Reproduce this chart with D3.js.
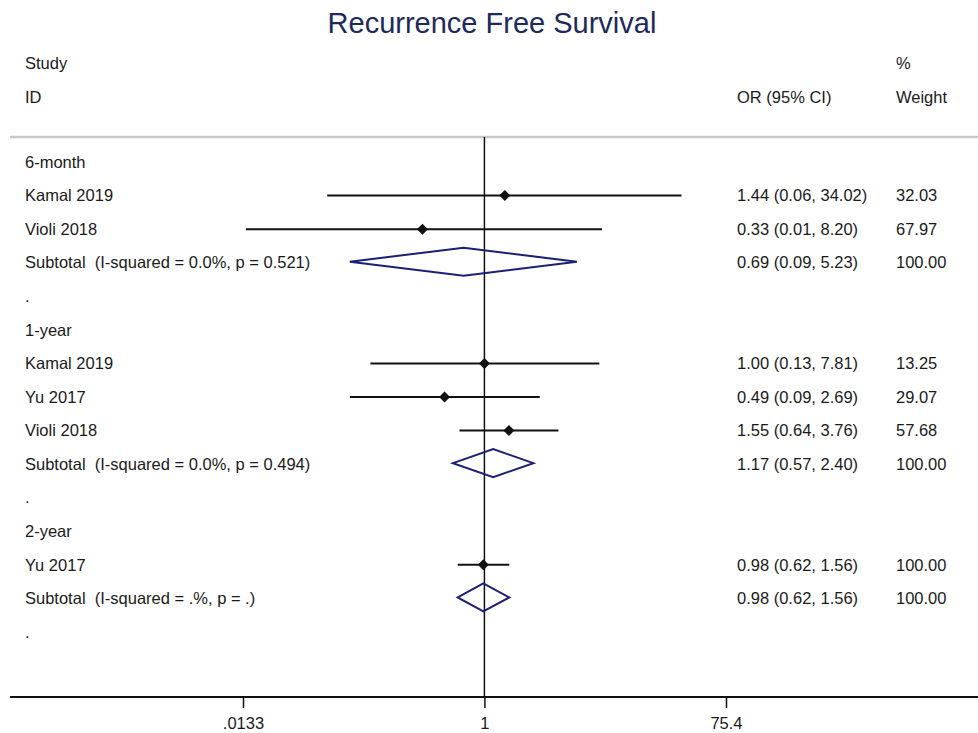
<!DOCTYPE html>
<html>
<head>
<meta charset="utf-8">
<script src="https://cdn.jsdelivr.net/npm/d3@7"></script>
<style>
  html, body { margin: 0; padding: 0; background: #fff; }
  svg { display: block; }
  text { font-family: "Liberation Sans", Arial, sans-serif; white-space: pre; }
</style>
</head>
<body>
<svg id="chart" width="978" height="733"></svg>
<script>
// ---- Data ----
const title = "Recurrence Free Survival";
const rowLabels = [
  "6-month", "Kamal 2019", "Violi 2018", "Subtotal  (I-squared = 0.0%, p = 0.521)", ".",
  "1-year", "Kamal 2019", "Yu 2017", "Violi 2018", "Subtotal  (I-squared = 0.0%, p = 0.494)", ".",
  "2-year", "Yu 2017", "Subtotal  (I-squared = .%, p = .)", "."
];
const rowTypes = [
  "group", "study", "study", "subtotal", "blank",
  "group", "study", "study", "study", "subtotal", "blank",
  "group", "study", "subtotal", "blank"
];
const orValues = [null, 1.44, 0.33, 0.69, null, null, 1.00, 0.49, 1.55, 1.17, null, null, 0.98, 0.98, null];
const lowerCI  = [null, 0.06, 0.014, 0.09, null, null, 0.13, 0.09, 0.64, 0.57, null, null, 0.62, 0.62, null];
const upperCI  = [null, 34.02, 8.20, 5.23, null, null, 7.81, 2.69, 3.76, 2.40, null, null, 1.56, 1.56, null];
const ciLabels = [
  "", "1.44 (0.06, 34.02)", "0.33 (0.01, 8.20)", "0.69 (0.09, 5.23)", "",
  "", "1.00 (0.13, 7.81)", "0.49 (0.09, 2.69)", "1.55 (0.64, 3.76)", "1.17 (0.57, 2.40)", "",
  "", "0.98 (0.62, 1.56)", "0.98 (0.62, 1.56)", ""
];
const weightLabels = [
  "", "32.03", "67.97", "100.00", "",
  "", "13.25", "29.07", "57.68", "100.00", "",
  "", "100.00", "100.00", ""
];
const tickValues = [0.0133, 1, 75.4];
const tickLabels = [".0133", "1", "75.4"];

// ---- Layout ----
const W = 978, H = 733;
const svg = d3.select("#chart");
const textColor = "#1a1a1a";
const navy = "#1b1f78";
const fs = 16.5;

const x = d3.scaleLog().domain([0.0133, 75.4]).range([243, 726]);
const y = d3.scalePoint().domain(d3.range(rowLabels.length)).range([162, 632]);
const axisY = 697;
const topY = 137;

// title
svg.append("text")
  .attr("x", 492).attr("y", 33)
  .attr("text-anchor", "middle")
  .attr("font-size", 29)
  .attr("fill", "#1c2a5c")
  .text(title);

// headers
const hdr = svg.append("g").attr("font-size", fs).attr("fill", textColor);
hdr.append("text").attr("x", 25).attr("y", 63).attr("dy", "0.35em").text("Study");
hdr.append("text").attr("x", 25).attr("y", 97).attr("dy", "0.35em").text("ID");
hdr.append("text").attr("x", 737).attr("y", 97).attr("dy", "0.35em").text("OR (95% CI)");
hdr.append("text").attr("x", 896).attr("y", 63).attr("dy", "0.35em").text("%");
hdr.append("text").attr("x", 896).attr("y", 97).attr("dy", "0.35em").text("Weight");

// separator
svg.append("line")
  .attr("x1", 10).attr("x2", W).attr("y1", topY).attr("y2", topY)
  .attr("stroke", "#c8c8c8").attr("stroke-width", 2.5);

// null line
svg.append("line")
  .attr("x1", x(1)).attr("x2", x(1)).attr("y1", topY).attr("y2", axisY)
  .attr("stroke", "#111").attr("stroke-width", 1.5);

const rows = rowLabels.map((l, i) => ({
  label: l, type: rowTypes[i], or: orValues[i], lo: lowerCI[i], hi: upperCI[i],
  ci: ciLabels[i], w: weightLabels[i], i
}));

// labels
const lbl = svg.append("g").attr("font-size", fs).attr("fill", textColor);
lbl.selectAll("text.lab").data(rows).join("text")
  .attr("class", "lab")
  .attr("xml:space", "preserve")
  .attr("x", 25).attr("y", d => y(d.i)).attr("dy", "0.35em")
  .text(d => d.label);
lbl.selectAll("text.ci").data(rows.filter(d => d.ci)).join("text")
  .attr("class", "ci")
  .attr("x", 737).attr("y", d => y(d.i)).attr("dy", "0.35em")
  .text(d => d.ci);
lbl.selectAll("text.w").data(rows.filter(d => d.w)).join("text")
  .attr("class", "w")
  .attr("x", 896).attr("y", d => y(d.i)).attr("dy", "0.35em")
  .text(d => d.w);

// study CI lines and markers
const studies = rows.filter(d => d.type === "study");
svg.append("g").selectAll("line").data(studies).join("line")
  .attr("x1", d => x(d.lo)).attr("x2", d => x(d.hi))
  .attr("y1", d => y(d.i)).attr("y2", d => y(d.i))
  .attr("stroke", "#111").attr("stroke-width", 2);
const m = 5.5;
svg.append("g").selectAll("path").data(studies).join("path")
  .attr("d", d => {
    const cx = x(d.or), cy = y(d.i);
    return `M${cx},${cy - m}L${cx + m},${cy}L${cx},${cy + m}L${cx - m},${cy}Z`;
  })
  .attr("fill", "#111");

// subtotal diamonds
const subs = rows.filter(d => d.type === "subtotal");
const dh = 14;
svg.append("g").selectAll("path").data(subs).join("path")
  .attr("d", d => {
    const cy = y(d.i) - 1;
    return `M${x(d.lo)},${cy}L${x(d.or)},${cy - dh}L${x(d.hi)},${cy}L${x(d.or)},${cy + dh}Z`;
  })
  .attr("fill", "none").attr("stroke", navy).attr("stroke-width", 2);

// axis
svg.append("line")
  .attr("x1", 10).attr("x2", W).attr("y1", axisY).attr("y2", axisY)
  .attr("stroke", "#111").attr("stroke-width", 2);
const axis = d3.axisBottom(x)
  .tickValues(tickValues)
  .tickFormat((d, i) => tickLabels[i])
  .tickSize(11).tickPadding(9);
const ax = svg.append("g").attr("transform", `translate(0,${axisY})`).call(axis);
ax.select(".domain").remove();
ax.selectAll(".tick line").attr("stroke", "#111").attr("stroke-width", 1.5);
ax.selectAll(".tick text").attr("font-size", fs).attr("fill", textColor)
  .attr("font-family", "Liberation Sans, Arial, sans-serif");
</script>
</body>
</html>
